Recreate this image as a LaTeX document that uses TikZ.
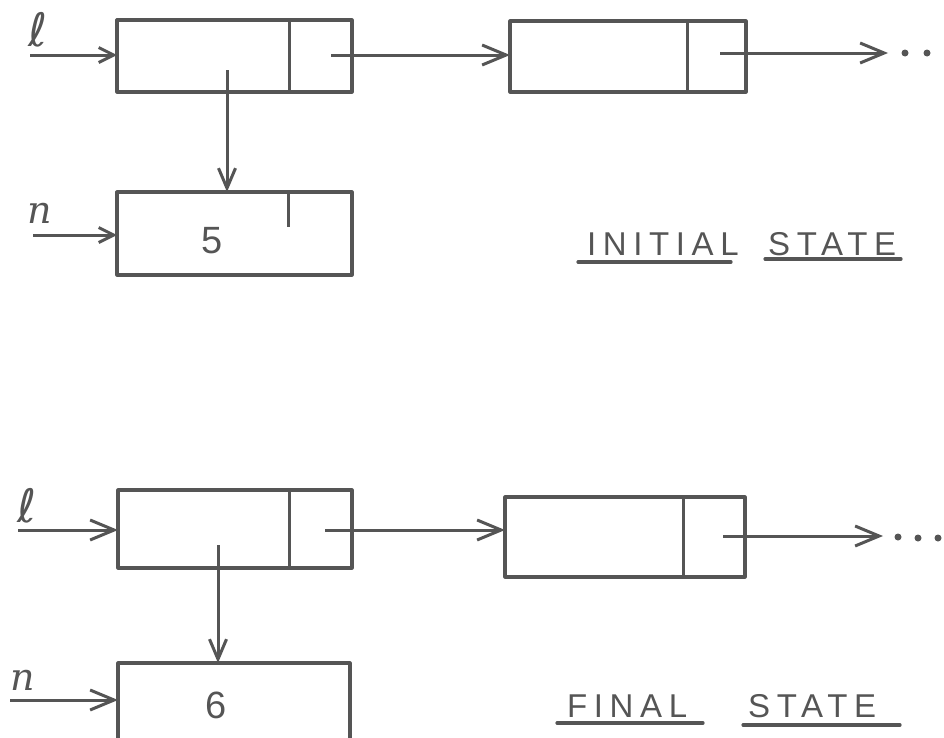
\documentclass[tikz,border=0pt]{standalone}
\usepackage{fontspec}
\setmainfont{Liberation Sans}
\newfontfamily\varf{DejaVu Sans}
\newfontfamily\varfs{DejaVu Serif}
\usetikzlibrary{arrows.meta}
\definecolor{ink}{RGB}{85,85,85}
\begin{document}
\begin{tikzpicture}[x=1pt,y=-1pt,
  cellbox/.style={draw=ink, rectangle, outer sep=0pt, inner sep=0pt, line width=3.2pt, line join=round},
  plain/.style={draw=ink, line width=3pt},
  ptr/.style={draw=ink, line width=3pt, -{Straight Barb[length=24pt,width=20pt]}},
  ptrs/.style={draw=ink, line width=3pt, -{Straight Barb[length=15pt,width=15pt]}},
  ptrd/.style={draw=ink, line width=3pt, -{Straight Barb[length=20pt,width=17pt]}},
  uline/.style={draw=ink, line width=3.2pt, line cap=round},
  dotm/.style={fill=ink, draw=none, circle, minimum size=7pt, inner sep=0pt},
  lbl/.style={text=ink, inner sep=0pt, anchor=base west, font=\fontsize{33}{33}\selectfont\addfontfeatures{LetterSpace=20}},
  digit/.style={text=ink, inner sep=0pt, font=\fontsize{38}{38}\selectfont},
  varl/.style={text=ink, inner sep=0pt, font=\fontsize{46}{46}\selectfont\varf},
  varn/.style={text=ink, inner sep=0pt, font=\fontsize{38}{38}\selectfont\varfs\itshape}]
\useasboundingbox (0,0) rectangle (944,737);

% ---------- INITIAL STATE ----------
\node[cellbox, minimum width=235pt, minimum height=72pt] (A) at (234.5,56) {};
\node[cellbox, minimum width=236pt, minimum height=71pt] (B) at (628,56.5) {};
\node[cellbox, minimum width=235pt, minimum height=83pt] (C) at (234.5,233.5) {};
\draw[plain] (289,20) -- (289,92);
\draw[plain] (687,21) -- (687,92);
\draw[plain] (288,192) -- (288,227);

\node[varl] (l1) at (38,30) {ℓ};
\node[varn] (n1) at (40,213) {n};
\node[digit] (five) at (212,241) {5};

\coordinate (l1s) at (30,55);
\coordinate (n1s) at (33,235);
\coordinate (a1) at (331,55);
\coordinate (a2) at (227,70);
\coordinate (b1) at (720,53);
\coordinate (b2) at (888,53);

\draw[ptrs] (l1s) -- (l1s -| A.west);
\draw[ptrs] (n1s) -- (n1s -| C.west);
\draw[ptr] (a1) -- (a1 -| B.west);
\draw[ptrd] (a2) -- (a2 |- C.north);
\draw[ptr] (b1) -- (b2);
\node[dotm] (bd1) at (905,53) {};
\node[dotm] (bd2) at (927,53) {};

\node[lbl] (init) at (587,255) {INITIAL};
\node[lbl] (st1) at (768,255) {STATE};
\draw[uline] (578,262) -- (731,262);
\draw[uline] (765,259) -- (901,259);

% ---------- FINAL STATE ----------
\node[cellbox, minimum width=234pt, minimum height=78pt] (D) at (235,529) {};
\node[cellbox, minimum width=240pt, minimum height=80pt] (E) at (625,537) {};
\draw[plain] (289,490) -- (289,568);
\draw[plain] (683,497) -- (683,577);
\coordinate (Ftl) at (118,663);
\coordinate (Ftr) at (350,663);
\draw[cellbox] (118,745) -- (Ftl) -- (Ftr) -- (350,745);

\node[varl] (l2) at (27,506) {ℓ};
\node[varn] (n2) at (23,680) {n};
\node[digit] (six) at (216,705) {6};

\coordinate (l2s) at (18,530);
\coordinate (n2s) at (10,700);
\coordinate (d1) at (325,530);
\coordinate (d2) at (218,545);
\coordinate (e1) at (723,536);
\coordinate (e2) at (883,536);

\draw[ptr] (l2s) -- (l2s -| D.west);
\draw[ptr] (n2s) -- (n2s -| Ftl);
\draw[ptr] (d1) -- (d1 -| E.west);
\draw[ptrd] (d2) -- (d2 |- Ftl);
\draw[ptr] (e1) -- (e2);
\node[dotm] (ed1) at (898,537) {};
\node[dotm] (ed2) at (918,538) {};
\node[dotm] (ed3) at (938,538) {};

\node[lbl] (fin) at (567,717) {FINAL};
\node[lbl] (st2) at (748,717) {STATE};
\draw[uline] (557,723) -- (703,723);
\draw[uline] (743,725) -- (900,725);
\end{tikzpicture}
\end{document}
